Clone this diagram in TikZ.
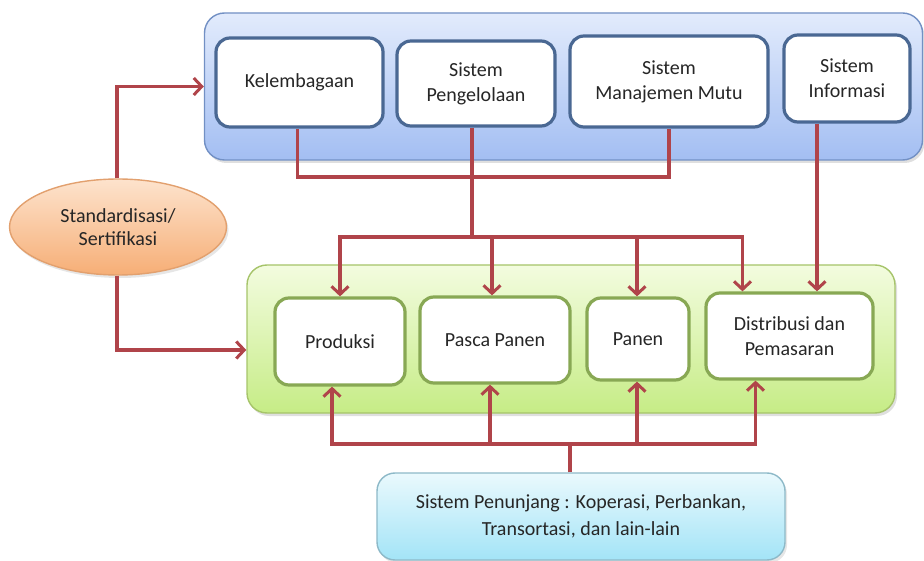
\documentclass[tikz,border=0pt]{standalone}
\usepackage{fontspec}
\setmainfont{Carlito}
\usetikzlibrary{shapes.geometric,arrows.meta,shadows}
\definecolor{arrred}{HTML}{B0444A}
\definecolor{blueborder}{HTML}{7290C4}
\definecolor{bluetop}{HTML}{E2EBFC}
\definecolor{bluebot}{HTML}{A3BEF2}
\definecolor{innerblue}{HTML}{4A6893}
\definecolor{greenborder}{HTML}{A6C46A}
\definecolor{greentop}{HTML}{F3FCDF}
\definecolor{greenbot}{HTML}{C6EC86}
\definecolor{innergreen}{HTML}{88A854}
\definecolor{oratop}{HTML}{FDE3CD}
\definecolor{orabot}{HTML}{F6AE76}
\definecolor{oraborder}{HTML}{E2A06E}
\definecolor{cyantop}{HTML}{EAF9FD}
\definecolor{cyanbot}{HTML}{A3E4F7}
\definecolor{cyanborder}{HTML}{8DB9C8}
\definecolor{txt}{HTML}{262626}
\tikzset{
  outerbox/.style={draw, line width=1.4pt, rounded corners=20pt, inner sep=0pt,
    drop shadow={opacity=0.25, shadow xshift=2pt, shadow yshift=-3pt}},
  topbox/.style={draw=innerblue, fill=white, line width=3.2pt, rounded corners=14pt,
    align=center, inner sep=0pt, text=txt, font=\fontsize{20}{25}\selectfont},
  botbox/.style={draw=innergreen, fill=white, line width=3.2pt, rounded corners=14pt,
    align=center, inner sep=0pt, text=txt, font=\fontsize{20}{25}\selectfont},
  conn/.style={draw=arrred, line width=3.4pt},
  arr/.style={conn, -{Straight Barb[length=8pt,width=17pt,line width=3pt]}},
}
\begin{document}
\begin{tikzpicture}[x=1pt,y=-1pt]
\useasboundingbox (0,0) rectangle (924,561);
% outer containers
\node[outerbox, draw=blueborder, top color=bluetop, bottom color=bluebot,
  minimum width=718pt, minimum height=147pt] (blue) at (563.5,86.5) {};
\node[outerbox, draw=greenborder, top color=greentop, bottom color=greenbot,
  minimum width=648pt, minimum height=148pt] (green) at (571,339) {};
% top boxes
\node[topbox, minimum width=167pt, minimum height=89pt] (k) at (299.5,82.5) {Kelembagaan};
\node[topbox, minimum width=158pt, minimum height=85pt] (p) at (476,83.5) {Sistem\\Pengelolaan};
\node[topbox, minimum width=198pt, minimum height=91pt] (m) at (669,81.5) {Sistem\\Manajemen Mutu};
\node[topbox, minimum width=126pt, minimum height=87pt] (i) at (847,78.5) {Sistem\\Informasi};
% bottom boxes
\node[botbox, minimum width=130pt, minimum height=87pt] (prod) at (340,341.5) {Produksi};
\node[botbox, minimum width=150pt, minimum height=86pt] (pasca) at (495,340) {Pasca Panen};
\node[botbox, minimum width=102pt, minimum height=82pt] (panen) at (638,339) {Panen};
\node[botbox, minimum width=167pt, minimum height=86pt] (dist) at (789.5,336) {Distribusi dan\\Pemasaran};
% ellipse
\node[ellipse, draw=oraborder, line width=1.4pt, top color=oratop, bottom color=orabot,
  minimum width=217pt, minimum height=96pt, inner sep=0pt, align=center, text=txt,
  font=\fontsize{20}{23}\selectfont,
  drop shadow={opacity=0.2, shadow xshift=2pt, shadow yshift=-3pt}] (std) at (118,227) {Standardisasi/\\Sertifikasi};
% support box
\node[draw=cyanborder, line width=1.4pt, rounded corners=18pt, top color=cyantop, bottom color=cyanbot,
  minimum width=408pt, minimum height=87pt, inner sep=0pt, align=center, text=txt,
  font=\fontsize{20}{27}\selectfont,
  drop shadow={opacity=0.2, shadow xshift=2pt, shadow yshift=-3pt}] (sp) at (581,516.5)
  {Sistem Penunjang : Koperasi, Perbankan,\\Transortasi, dan lain-lain};
% junction coordinates
\coordinate (j1) at (472,177);
\coordinate (j2) at (472,237);
\coordinate (j3) at (570,444);
% top connectors
\draw[conn] ([xshift=-2pt]k.south) |- (j1) -| (m.south);
\draw[conn] ([xshift=-4pt]p.south) -- (j1) -- (j2);
\draw[arr] (j2) -| (prod.north);
\draw[arr] (j2) -| ([xshift=-3pt]pasca.north);
\draw[arr] (j2) -| ([xshift=-1pt]panen.north);
\draw[arr] (j2) -| ([xshift=-47pt]dist.north);
\draw[arr] ([xshift=-30pt]i.south) -- ([xshift=-30pt]i.south |- dist.north);
% bottom connectors
\draw[conn] (sp.north -| j3) -- (j3);
\draw[arr] (j3) -| ([xshift=-8pt]prod.south);
\draw[arr] (j3) -| ([xshift=-5pt]pasca.south);
\draw[arr] (j3) -| ([xshift=-1pt]panen.south);
\draw[arr] (j3) -| ([xshift=-34pt]dist.south);
% standardisation connectors
\draw[arr] ([xshift=-1pt]std.north) |- (blue.west);
\draw[arr] ([xshift=-1pt]std.south) |- ([yshift=-11pt]green.west);
\end{tikzpicture}
\end{document}
